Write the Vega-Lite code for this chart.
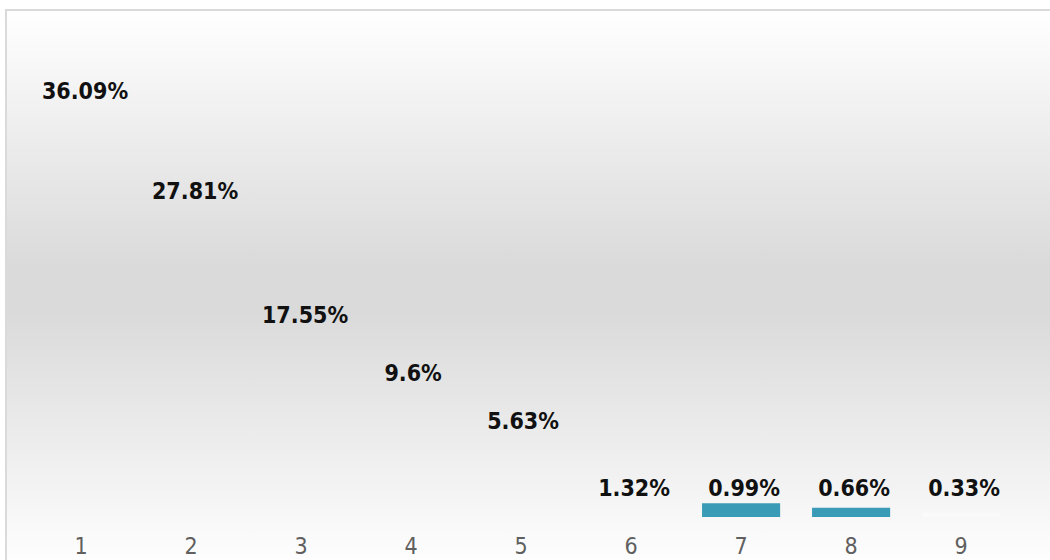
{
  "$schema": "https://vega.github.io/schema/vega-lite/v6.json",
  "width": 1050,
  "height": 560,
  "autosize": {"type": "none"},
  "padding": {"left": 6, "top": 10, "right": 0, "bottom": 0},
  "background": "#ffffff",
  "view": {
    "fill": {
      "gradient": "linear",
      "x1": 0, "y1": 0, "x2": 0, "y2": 1,
      "stops": [
        {"offset": 0, "color": "#ffffff"},
        {"offset": 0.46, "color": "#dadada"},
        {"offset": 0.54, "color": "#dadada"},
        {"offset": 1, "color": "#ffffff"}
      ]
    },
    "stroke": "#dadada",
    "strokeWidth": 2
  },
  "data": {
    "values": [
      {"cat": "1", "value": 0.3609},
      {"cat": "2", "value": 0.2781},
      {"cat": "3", "value": 0.1755},
      {"cat": "4", "value": 0.096},
      {"cat": "5", "value": 0.0563},
      {"cat": "6", "value": 0.0132},
      {"cat": "7", "value": 0.0099},
      {"cat": "8", "value": 0.0066},
      {"cat": "9", "value": 0.0033}
    ]
  },
  "encoding": {
    "x": {
      "field": "cat",
      "type": "ordinal",
      "sort": null,
      "scale": {"paddingInner": 0.29, "paddingOuter": 0.4175, "align": 0.392},
      "axis": {
        "title": null,
        "domain": false,
        "ticks": false,
        "grid": false,
        "labelAngle": 0,
        "labelFont": "DejaVu Sans Condensed",
        "labelFontSize": 23,
        "labelColor": "#606060",
        "labelPadding": 0,
        "labelBaseline": "middle",
        "offset": -24
      }
    }
  },
  "layer": [
    {
      "mark": {"type": "bar"},
      "encoding": {
        "y": {
          "field": "value",
          "type": "quantitative",
          "scale": {"domain": [-0.037857, 0.362143], "nice": false, "zero": false},
          "axis": null
        },
        "color": {
          "condition": {"test": "datum.value < 0.005", "value": "#ffffff"},
          "value": "#3a9bb6"
        },
        "opacity": {
          "condition": [
            {"test": "datum.value >= 0.01", "value": 0},
            {"test": "datum.value < 0.005", "value": 0.35}
          ],
          "value": 1
        }
      }
    },
    {
      "layer": [
        {
          "transform": [{"filter": "datum.value >= 0.15"}],
          "mark": {"type": "text", "font": "DejaVu Sans Condensed", "fontWeight": "bold", "fontSize": 23, "color": "#111111", "baseline": "middle", "align": "center", "dx": 4},
          "encoding": {
            "y": {"field": "value", "type": "quantitative", "scale": {"domain": [-0.03477, 0.4288], "nice": false, "zero": false}, "axis": null},
            "text": {"field": "value", "type": "quantitative", "format": ".2~%"}
          }
        },
        {
          "transform": [{"filter": "datum.value < 0.15 && datum.value >= 0.02"}],
          "mark": {"type": "text", "font": "DejaVu Sans Condensed", "fontWeight": "bold", "fontSize": 23, "color": "#111111", "baseline": "middle", "align": "center", "dy": -38, "dx": 2},
          "encoding": {
            "y": {"field": "value", "type": "quantitative", "scale": {"domain": [-0.03477, 0.4288], "nice": false, "zero": false}, "axis": null},
            "text": {"field": "value", "type": "quantitative", "format": ".2~%"}
          }
        },
        {
          "transform": [{"filter": "datum.value < 0.02"}],
          "mark": {"type": "text", "font": "DejaVu Sans Condensed", "fontWeight": "bold", "fontSize": 23, "color": "#111111", "baseline": "middle", "align": "center", "dy": -39, "dx": 3},
          "encoding": {
            "y": {"datum": 0, "type": "quantitative", "scale": {"domain": [-0.03477, 0.4288], "nice": false, "zero": false}, "axis": null},
            "text": {"field": "value", "type": "quantitative", "format": ".2~%"}
          }
        }
      ]
    }
  ],
  "resolve": {"scale": {"y": "independent"}}
}
